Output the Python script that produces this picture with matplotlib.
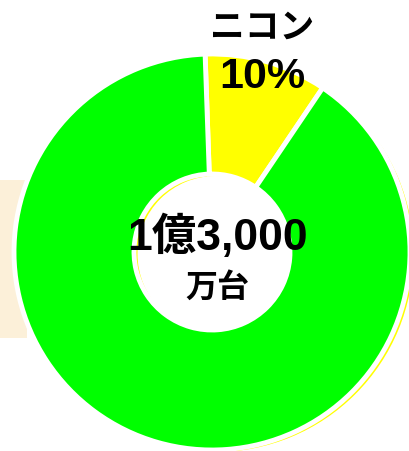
import matplotlib
matplotlib.use("Agg")
import matplotlib.pyplot as plt
from matplotlib.patches import Rectangle

# data
labels = ['ニコン', 'その他']
shares = [10, 90]
colors = ['#ffff00', '#00ff00']
total_text = '1億3,000'
unit_text = '万台'

fonts = ['Liberation Sans', 'Noto Sans CJK JP', 'DejaVu Sans']

fig = plt.figure(figsize=(4.09, 4.51), dpi=100)
ax = fig.add_axes([0, 0, 1, 1])
ax.set_xlim(0, 409)
ax.set_ylim(0, 451)
ax.axis('off')

cx, cy = 212, 199
r_out = 198
ring = 120

# beige panel at the left edge
ax.add_patch(Rectangle((0, 451 - 338), 27, 158, facecolor='#fcf0d9',
                       edgecolor='none', zorder=0))

# yellow ring sitting slightly behind the main donut
ax.pie([1], colors=[colors[0]], radius=r_out, center=(cx + 3.5, cy - 2),
       startangle=90, wedgeprops=dict(width=ring, edgecolor='none'))

# main donut
ax.pie(shares, colors=colors, radius=r_out, center=(cx, cy),
       startangle=92, counterclock=False,
       wedgeprops=dict(width=ring, edgecolor='white', linewidth=3.5))

ax.set_xlim(0, 409)
ax.set_ylim(0, 451)
ax.set_aspect('equal')

# slice label
ax.text(262, 451 - 28, labels[0], ha='center', va='center', fontsize=25,
        fontweight='bold', family=fonts, zorder=5)
ax.text(262, 451 - 77, '%d%%' % shares[0], ha='center', va='center',
        fontsize=31, fontweight='bold', family=fonts, zorder=5)

# centre total
ax.text(218, 451 - 237, total_text, ha='center', va='center', fontsize=32,
        fontweight='bold', family=fonts, zorder=5)
ax.text(217, 451 - 288, unit_text, ha='center', va='center', fontsize=23,
        fontweight='bold', family=fonts, zorder=5)

fig.savefig('out.png', dpi=100)
plt.close()
